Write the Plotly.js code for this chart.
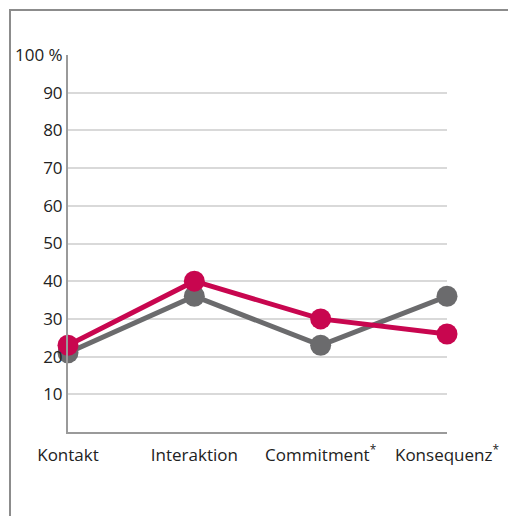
<!DOCTYPE html>
<html><head><meta charset="utf-8">
<script src="https://cdn.plot.ly/plotly-3.0.1.min.js"></script>
<style>
html,body{margin:0;padding:0;background:#fff;}
#frame{position:absolute;left:9px;top:9px;width:499px;height:507px;border-left:2px solid #8c8c8c;border-top:2px solid #8c8c8c;box-sizing:border-box;}
#chart{position:absolute;left:0;top:0;width:508px;height:516px;}
</style>
</head><body>
<div id="frame"></div>
<div id="chart"></div>
<script>
const categories = ["Kontakt", "Interaktion", "Commitment<sup>*</sup>", "Konsequenz<sup>*</sup>"];
const grayValues = [21, 36, 23, 36];
const redValues = [23, 40, 30, 26];
const yTickVals = [10, 20, 30, 40, 50, 60, 70, 80, 90, 100];
const yTickText = ["10", "20", "30", "40", "50", "60", "70", "80", "90", "100 %"];

const xIdx = categories.map((_, i) => i);
const traces = [
  {x: xIdx, y: grayValues, type: 'scatter', mode: 'lines+markers', cliponaxis: false,
   line: {color: '#6b6b6d', width: 5}, marker: {color: '#6b6b6d', size: 21}, hoverinfo: 'skip'},
  {x: xIdx, y: redValues, type: 'scatter', mode: 'lines+markers', cliponaxis: false,
   line: {color: '#c8064f', width: 5}, marker: {color: '#c8064f', size: 21}, hoverinfo: 'skip'}
];
const layout = {
  width: 508, height: 516,
  margin: {l: 68, r: 61, t: 55, b: 84},
  paper_bgcolor: 'rgba(0,0,0,0)', plot_bgcolor: 'rgba(0,0,0,0)',
  showlegend: false,
  font: {family: 'Open Sans, sans-serif', size: 17, color: '#222222'},
  xaxis: {range: [0, 3], tickvals: xIdx, ticktext: categories, showgrid: false, zeroline: false,
          showline: true, linecolor: '#9a9a9a', linewidth: 2, ticks: '', ticklabelstandoff: 7,
          tickfont: {size: 17}, fixedrange: true},
  yaxis: {range: [0, 100], tickvals: yTickVals, ticktext: yTickText, showgrid: true,
          gridcolor: '#d9d9d9', gridwidth: 2, zeroline: false, showline: true,
          linecolor: '#9a9a9a', linewidth: 2, ticks: 'outside', ticklen: 0, ticklabelstandoff: 0,
          tickfont: {size: 17}, fixedrange: true}
};
Plotly.newPlot('chart', traces, layout, {staticPlot: true});
</script>
</body></html>
